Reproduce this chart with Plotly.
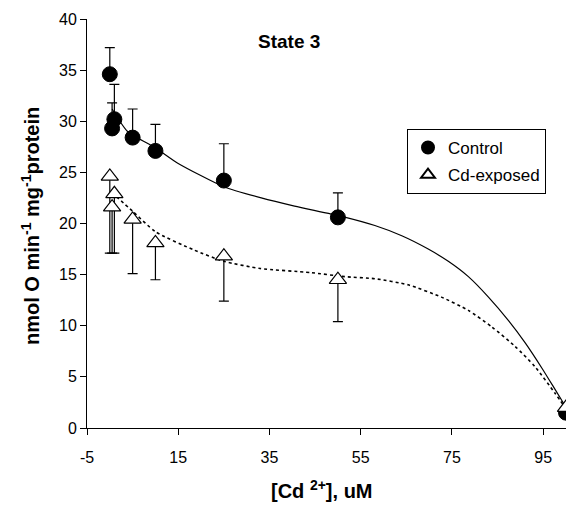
import plotly.graph_objects as go

# Data
cd_conc = [0, 0.5, 1, 5, 10, 25, 50, 100]
control = [34.6, 29.3, 30.2, 28.4, 27.1, 24.2, 20.6, 1.5]
control_err = [2.6, 2.5, 3.4, 2.8, 2.6, 3.6, 2.4, 0]
cd_exposed = [24.6, 21.6, 22.9, 20.4, 18.1, 16.8, 14.5, 2.0]
cd_exposed_err = [7.5, 4.5, 5.8, 5.3, 3.6, 4.4, 4.1, 0]

# Trend lines
trend_x_control = [0.5, 3.9, 10, 14.9, 25, 33.2, 40.5, 50.8, 58.1, 64.0, 69.8, 74.2, 78.6, 83.0, 87.4, 91.1, 94.8, 97.7, 99.9]
trend_y_control = [31.2, 29.0, 27.4, 25.9, 23.6, 22.5, 21.7, 20.7, 19.8, 18.8, 17.5, 16.3, 14.8, 12.8, 10.5, 8.3, 5.8, 3.7, 2.1]
trend_x_cd = [0.5, 5, 10, 18.5, 25, 33, 44, 51.5, 58.1, 65.4, 72.7, 78.6, 83.7, 88.8, 93.2, 97.6, 99.8]
trend_y_cd = [23.0, 21.2, 19.2, 17.4, 16.3, 15.6, 15.2, 14.8, 14.6, 14.0, 12.8, 11.5, 9.9, 8.0, 6.0, 3.4, 2.0]

x_ticks = [-5, 15, 35, 55, 75, 95]
y_ticks = [0, 5, 10, 15, 20, 25, 30, 35, 40]

FONT = "Liberation Sans, Arial, sans-serif"

# page body has an 8px margin: figure is sized so the plot lands where the reference has it
PAGE = 8
W, H = 576 - PAGE, 506 - PAGE
ML, MR, MT, MB = 87 - PAGE, 10, 19 - PAGE, 78
PW, PH = W - ML - MR, H - MT - MB
X0, Y0 = 87, 428  # plot-area left / bottom in page pixels


def px_x(p):
    return (p - X0) / PW


def px_y(p):
    return (Y0 - p) / PH


fig = go.Figure()

fig.add_trace(go.Scatter(
    x=trend_x_control, y=trend_y_control, mode="lines",
    line=dict(color="black", width=1.2, shape="spline", smoothing=0.6),
    showlegend=False, hoverinfo="skip"))
fig.add_trace(go.Scatter(
    x=trend_x_cd, y=trend_y_cd, mode="lines",
    line=dict(color="black", width=1.6, dash="dot", shape="spline", smoothing=0.6),
    showlegend=False, hoverinfo="skip"))

fig.add_trace(go.Scatter(
    x=cd_conc, y=control, mode="markers", name="Control", legendgroup="a",
    marker=dict(symbol="circle", size=15, color="black", line=dict(color="black", width=1)),
    error_y=dict(type="data", symmetric=False, array=control_err, arrayminus=[0] * len(control_err),
                 color="black", thickness=1.2, width=5)))
fig.add_trace(go.Scatter(
    x=cd_conc, y=cd_exposed, mode="markers", name="Cd-exposed", legendgroup="b",
    marker=dict(symbol="triangle-up", size=15, color="white", line=dict(color="black", width=1.2)),
    error_y=dict(type="data", symmetric=False, array=[0] * len(cd_exposed_err), arrayminus=cd_exposed_err,
                 color="black", thickness=1.2, width=5)))

fig.update_layout(
    width=W, height=H,
    margin=dict(l=ML, r=MR, t=MT, b=MB, autoexpand=False),
    paper_bgcolor="white", plot_bgcolor="white",
    font=dict(family=FONT, size=16, color="black"),
    showlegend=True,
    legend=dict(x=px_x(407), y=px_y(129), xanchor="left", yanchor="top",
                bordercolor="black", borderwidth=1, bgcolor="white",
                font=dict(size=17), traceorder="grouped", tracegroupgap=2,
                itemsizing="constant", itemwidth=30),
    xaxis=dict(range=[-5, 100], tickvals=x_ticks, ticktext=[str(v) for v in x_ticks],
               showgrid=False, zeroline=False, showline=True, linecolor="black", linewidth=1,
               ticks="outside", ticklen=6, tickcolor="black", ticklabelstandoff=9,
               tickfont=dict(size=16), automargin=False),
    yaxis=dict(range=[0, 40], tickvals=y_ticks, showgrid=False, zeroline=False,
               showline=True, linecolor="black", linewidth=1,
               ticks="outside", ticklen=6, tickcolor="black", tickfont=dict(size=16),
               automargin=False),
    annotations=[
        dict(text="<b>State 3</b>", x=px_x(289), y=px_y(41), xref="paper", yref="paper",
             xanchor="center", yanchor="middle", showarrow=False, font=dict(size=19)),
        dict(text="<b>[Cd <sup>2+</sup>], uM</b>", xref="paper", yref="paper", x=px_x(322), y=px_y(490),
             xanchor="center", yanchor="middle", showarrow=False, font=dict(size=20)),
        dict(text="<b>nmol O min<sup>-1</sup> mg<sup>-1</sup>protein</b>", xref="paper", yref="paper",
             x=px_x(30), y=px_y(226), textangle=-90, xanchor="center", yanchor="middle",
             showarrow=False, font=dict(size=20)),
    ],
)

fig.write_html("out.html")
